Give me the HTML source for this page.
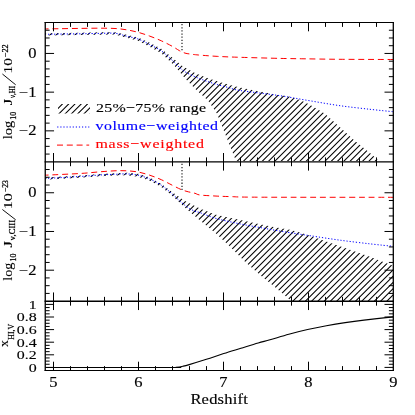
<!DOCTYPE html>
<html><head><meta charset="utf-8"><title>plot</title>
<style>html,body{margin:0;padding:0;background:#fff;}svg{display:block;}</style></head>
<body>
<svg width="415" height="415" viewBox="0 0 415 415">
<rect width="415" height="415" fill="#fff"/>
<defs>
<clipPath id="c1"><path d="M45.00 33.20 L80.00 32.70 L100.00 32.30 L115.00 32.20 L126.60 34.84 L138.10 37.39 L149.70 42.74 L161.30 48.78 L172.80 58.00 L183.00 66.50 L195.00 73.00 L206.00 77.60 L218.00 81.50 L230.00 85.00 L240.00 87.50 L260.00 91.50 L280.00 95.20 L289.00 96.50 L300.00 100.00 L310.00 104.80 L325.00 113.80 L340.00 127.30 L355.00 140.90 L370.00 153.00 L379.00 161.00 L236.00 161.00 L236.00 161.00 L232.00 151.10 L227.00 138.50 L221.90 125.80 L216.80 113.20 L208.00 100.50 L195.30 89.10 L185.20 78.50 L173.80 65.00 L161.30 53.22 L149.70 46.66 L138.10 40.81 L126.60 37.76 L115.00 34.60 L100.00 34.70 L80.00 35.10 L45.00 35.60 Z"/></clipPath>
<clipPath id="c2"><path d="M45.00 177.40 L80.00 175.40 L100.00 173.90 L115.00 173.20 L126.60 172.68 L138.10 173.87 L149.70 177.55 L161.30 183.64 L170.00 190.60 L185.00 201.00 L200.00 208.60 L215.00 214.50 L230.00 217.70 L245.00 221.00 L260.00 224.30 L275.00 227.20 L290.00 229.70 L300.00 232.50 L310.00 235.70 L325.00 241.00 L340.00 246.30 L355.00 251.50 L370.00 256.80 L393.00 265.80 L393.00 301.00 L291.50 301.30 L289.00 299.00 L275.40 287.60 L260.40 275.30 L245.30 262.00 L230.20 246.80 L215.20 232.80 L200.10 220.60 L185.10 207.80 L175.00 198.50 L170.00 194.00 L161.30 186.96 L149.70 180.65 L138.10 176.73 L126.60 175.32 L115.00 175.60 L100.00 176.30 L80.00 177.80 L45.00 179.80 Z"/></clipPath>
<clipPath id="c3"><rect x="58" y="104" width="32" height="9.6"/></clipPath>
<clipPath id="p1"><rect x="45.2" y="22.5" width="348.1" height="139.3"/></clipPath>
<clipPath id="p2"><rect x="45.2" y="161.8" width="348.1" height="139.4"/></clipPath>
</defs>
<path d="M-422.86 420 L-2.86 0 M-416.59 420 L3.41 0 M-410.32 420 L9.68 0 M-404.05 420 L15.95 0 M-397.78 420 L22.22 0 M-391.51 420 L28.49 0 M-385.24 420 L34.76 0 M-378.97 420 L41.03 0 M-372.70 420 L47.30 0 M-366.43 420 L53.57 0 M-360.16 420 L59.84 0 M-353.89 420 L66.11 0 M-347.62 420 L72.38 0 M-341.35 420 L78.65 0 M-335.08 420 L84.92 0 M-328.81 420 L91.19 0 M-322.54 420 L97.46 0 M-316.27 420 L103.73 0 M-310.00 420 L110.00 0 M-303.73 420 L116.27 0 M-297.46 420 L122.54 0 M-291.19 420 L128.81 0 M-284.92 420 L135.08 0 M-278.65 420 L141.35 0 M-272.38 420 L147.62 0 M-266.11 420 L153.89 0 M-259.84 420 L160.16 0 M-253.57 420 L166.43 0 M-247.30 420 L172.70 0 M-241.03 420 L178.97 0 M-234.76 420 L185.24 0 M-228.49 420 L191.51 0 M-222.22 420 L197.78 0 M-215.95 420 L204.05 0 M-209.68 420 L210.32 0 M-203.41 420 L216.59 0 M-197.14 420 L222.86 0 M-190.87 420 L229.13 0 M-184.60 420 L235.40 0 M-178.33 420 L241.67 0 M-172.06 420 L247.94 0 M-165.79 420 L254.21 0 M-159.52 420 L260.48 0 M-153.25 420 L266.75 0 M-146.98 420 L273.02 0 M-140.71 420 L279.29 0 M-134.44 420 L285.56 0 M-128.17 420 L291.83 0 M-121.90 420 L298.10 0 M-115.63 420 L304.37 0 M-109.36 420 L310.64 0 M-103.09 420 L316.91 0 M-96.82 420 L323.18 0 M-90.55 420 L329.45 0 M-84.28 420 L335.72 0 M-78.01 420 L341.99 0 M-71.74 420 L348.26 0 M-65.47 420 L354.53 0 M-59.20 420 L360.80 0 M-52.93 420 L367.07 0 M-46.66 420 L373.34 0 M-40.39 420 L379.61 0 M-34.12 420 L385.88 0 M-27.85 420 L392.15 0 M-21.58 420 L398.42 0 M-15.31 420 L404.69 0 M-9.04 420 L410.96 0 M-2.77 420 L417.23 0 M3.50 420 L423.50 0 M9.77 420 L429.77 0 M16.04 420 L436.04 0 M22.31 420 L442.31 0 M28.58 420 L448.58 0 M34.85 420 L454.85 0 M41.12 420 L461.12 0 M47.39 420 L467.39 0 M53.66 420 L473.66 0 M59.93 420 L479.93 0 M66.20 420 L486.20 0 M72.47 420 L492.47 0 M78.74 420 L498.74 0 M85.01 420 L505.01 0 M91.28 420 L511.28 0 M97.55 420 L517.55 0 M103.82 420 L523.82 0 M110.09 420 L530.09 0 M116.36 420 L536.36 0 M122.63 420 L542.63 0 M128.90 420 L548.90 0 M135.17 420 L555.17 0 M141.44 420 L561.44 0 M147.71 420 L567.71 0 M153.98 420 L573.98 0 M160.25 420 L580.25 0 M166.52 420 L586.52 0 M172.79 420 L592.79 0 M179.06 420 L599.06 0 M185.33 420 L605.33 0 M191.60 420 L611.60 0 M197.87 420 L617.87 0 M204.14 420 L624.14 0 M210.41 420 L630.41 0 M216.68 420 L636.68 0 M222.95 420 L642.95 0 M229.22 420 L649.22 0 M235.49 420 L655.49 0 M241.76 420 L661.76 0 M248.03 420 L668.03 0 M254.30 420 L674.30 0 M260.57 420 L680.57 0 M266.84 420 L686.84 0 M273.11 420 L693.11 0 M279.38 420 L699.38 0 M285.65 420 L705.65 0 M291.92 420 L711.92 0 M298.19 420 L718.19 0 M304.46 420 L724.46 0 M310.73 420 L730.73 0 M317.00 420 L737.00 0 M323.27 420 L743.27 0 M329.54 420 L749.54 0 M335.81 420 L755.81 0 M342.08 420 L762.08 0 M348.35 420 L768.35 0 M354.62 420 L774.62 0 M360.89 420 L780.89 0 M367.16 420 L787.16 0 M373.43 420 L793.43 0 M379.70 420 L799.70 0 M385.97 420 L805.97 0 M392.24 420 L812.24 0 M398.51 420 L818.51 0 M404.78 420 L824.78 0 " stroke="#000" stroke-width="1.05" fill="none" clip-path="url(#c1)"/>
<path d="M-421.66 420 L-1.66 0 M-415.39 420 L4.61 0 M-409.12 420 L10.88 0 M-402.85 420 L17.15 0 M-396.58 420 L23.42 0 M-390.31 420 L29.69 0 M-384.04 420 L35.96 0 M-377.77 420 L42.23 0 M-371.50 420 L48.50 0 M-365.23 420 L54.77 0 M-358.96 420 L61.04 0 M-352.69 420 L67.31 0 M-346.42 420 L73.58 0 M-340.15 420 L79.85 0 M-333.88 420 L86.12 0 M-327.61 420 L92.39 0 M-321.34 420 L98.66 0 M-315.07 420 L104.93 0 M-308.80 420 L111.20 0 M-302.53 420 L117.47 0 M-296.26 420 L123.74 0 M-289.99 420 L130.01 0 M-283.72 420 L136.28 0 M-277.45 420 L142.55 0 M-271.18 420 L148.82 0 M-264.91 420 L155.09 0 M-258.64 420 L161.36 0 M-252.37 420 L167.63 0 M-246.10 420 L173.90 0 M-239.83 420 L180.17 0 M-233.56 420 L186.44 0 M-227.29 420 L192.71 0 M-221.02 420 L198.98 0 M-214.75 420 L205.25 0 M-208.48 420 L211.52 0 M-202.21 420 L217.79 0 M-195.94 420 L224.06 0 M-189.67 420 L230.33 0 M-183.40 420 L236.60 0 M-177.13 420 L242.87 0 M-170.86 420 L249.14 0 M-164.59 420 L255.41 0 M-158.32 420 L261.68 0 M-152.05 420 L267.95 0 M-145.78 420 L274.22 0 M-139.51 420 L280.49 0 M-133.24 420 L286.76 0 M-126.97 420 L293.03 0 M-120.70 420 L299.30 0 M-114.43 420 L305.57 0 M-108.16 420 L311.84 0 M-101.89 420 L318.11 0 M-95.62 420 L324.38 0 M-89.35 420 L330.65 0 M-83.08 420 L336.92 0 M-76.81 420 L343.19 0 M-70.54 420 L349.46 0 M-64.27 420 L355.73 0 M-58.00 420 L362.00 0 M-51.73 420 L368.27 0 M-45.46 420 L374.54 0 M-39.19 420 L380.81 0 M-32.92 420 L387.08 0 M-26.65 420 L393.35 0 M-20.38 420 L399.62 0 M-14.11 420 L405.89 0 M-7.84 420 L412.16 0 M-1.57 420 L418.43 0 M4.70 420 L424.70 0 M10.97 420 L430.97 0 M17.24 420 L437.24 0 M23.51 420 L443.51 0 M29.78 420 L449.78 0 M36.05 420 L456.05 0 M42.32 420 L462.32 0 M48.59 420 L468.59 0 M54.86 420 L474.86 0 M61.13 420 L481.13 0 M67.40 420 L487.40 0 M73.67 420 L493.67 0 M79.94 420 L499.94 0 M86.21 420 L506.21 0 M92.48 420 L512.48 0 M98.75 420 L518.75 0 M105.02 420 L525.02 0 M111.29 420 L531.29 0 M117.56 420 L537.56 0 M123.83 420 L543.83 0 M130.10 420 L550.10 0 M136.37 420 L556.37 0 M142.64 420 L562.64 0 M148.91 420 L568.91 0 M155.18 420 L575.18 0 M161.45 420 L581.45 0 M167.72 420 L587.72 0 M173.99 420 L593.99 0 M180.26 420 L600.26 0 M186.53 420 L606.53 0 M192.80 420 L612.80 0 M199.07 420 L619.07 0 M205.34 420 L625.34 0 M211.61 420 L631.61 0 M217.88 420 L637.88 0 M224.15 420 L644.15 0 M230.42 420 L650.42 0 M236.69 420 L656.69 0 M242.96 420 L662.96 0 M249.23 420 L669.23 0 M255.50 420 L675.50 0 M261.77 420 L681.77 0 M268.04 420 L688.04 0 M274.31 420 L694.31 0 M280.58 420 L700.58 0 M286.85 420 L706.85 0 M293.12 420 L713.12 0 M299.39 420 L719.39 0 M305.66 420 L725.66 0 M311.93 420 L731.93 0 M318.20 420 L738.20 0 M324.47 420 L744.47 0 M330.74 420 L750.74 0 M337.01 420 L757.01 0 M343.28 420 L763.28 0 M349.55 420 L769.55 0 M355.82 420 L775.82 0 M362.09 420 L782.09 0 M368.36 420 L788.36 0 M374.63 420 L794.63 0 M380.90 420 L800.90 0 M387.17 420 L807.17 0 M393.44 420 L813.44 0 M399.71 420 L819.71 0 M405.98 420 L825.98 0 " stroke="#000" stroke-width="1.05" fill="none" clip-path="url(#c2)"/>
<path d="M-422.86 420 L-2.86 0 M-416.59 420 L3.41 0 M-410.32 420 L9.68 0 M-404.05 420 L15.95 0 M-397.78 420 L22.22 0 M-391.51 420 L28.49 0 M-385.24 420 L34.76 0 M-378.97 420 L41.03 0 M-372.70 420 L47.30 0 M-366.43 420 L53.57 0 M-360.16 420 L59.84 0 M-353.89 420 L66.11 0 M-347.62 420 L72.38 0 M-341.35 420 L78.65 0 M-335.08 420 L84.92 0 M-328.81 420 L91.19 0 M-322.54 420 L97.46 0 M-316.27 420 L103.73 0 M-310.00 420 L110.00 0 M-303.73 420 L116.27 0 M-297.46 420 L122.54 0 M-291.19 420 L128.81 0 M-284.92 420 L135.08 0 M-278.65 420 L141.35 0 M-272.38 420 L147.62 0 M-266.11 420 L153.89 0 M-259.84 420 L160.16 0 M-253.57 420 L166.43 0 M-247.30 420 L172.70 0 M-241.03 420 L178.97 0 M-234.76 420 L185.24 0 M-228.49 420 L191.51 0 M-222.22 420 L197.78 0 M-215.95 420 L204.05 0 M-209.68 420 L210.32 0 M-203.41 420 L216.59 0 M-197.14 420 L222.86 0 M-190.87 420 L229.13 0 M-184.60 420 L235.40 0 M-178.33 420 L241.67 0 M-172.06 420 L247.94 0 M-165.79 420 L254.21 0 M-159.52 420 L260.48 0 M-153.25 420 L266.75 0 M-146.98 420 L273.02 0 M-140.71 420 L279.29 0 M-134.44 420 L285.56 0 M-128.17 420 L291.83 0 M-121.90 420 L298.10 0 M-115.63 420 L304.37 0 M-109.36 420 L310.64 0 M-103.09 420 L316.91 0 M-96.82 420 L323.18 0 M-90.55 420 L329.45 0 M-84.28 420 L335.72 0 M-78.01 420 L341.99 0 M-71.74 420 L348.26 0 M-65.47 420 L354.53 0 M-59.20 420 L360.80 0 M-52.93 420 L367.07 0 M-46.66 420 L373.34 0 M-40.39 420 L379.61 0 M-34.12 420 L385.88 0 M-27.85 420 L392.15 0 M-21.58 420 L398.42 0 M-15.31 420 L404.69 0 M-9.04 420 L410.96 0 M-2.77 420 L417.23 0 M3.50 420 L423.50 0 M9.77 420 L429.77 0 M16.04 420 L436.04 0 M22.31 420 L442.31 0 M28.58 420 L448.58 0 M34.85 420 L454.85 0 M41.12 420 L461.12 0 M47.39 420 L467.39 0 M53.66 420 L473.66 0 M59.93 420 L479.93 0 M66.20 420 L486.20 0 M72.47 420 L492.47 0 M78.74 420 L498.74 0 M85.01 420 L505.01 0 M91.28 420 L511.28 0 M97.55 420 L517.55 0 M103.82 420 L523.82 0 M110.09 420 L530.09 0 M116.36 420 L536.36 0 M122.63 420 L542.63 0 M128.90 420 L548.90 0 M135.17 420 L555.17 0 M141.44 420 L561.44 0 M147.71 420 L567.71 0 M153.98 420 L573.98 0 M160.25 420 L580.25 0 M166.52 420 L586.52 0 M172.79 420 L592.79 0 M179.06 420 L599.06 0 M185.33 420 L605.33 0 M191.60 420 L611.60 0 M197.87 420 L617.87 0 M204.14 420 L624.14 0 M210.41 420 L630.41 0 M216.68 420 L636.68 0 M222.95 420 L642.95 0 M229.22 420 L649.22 0 M235.49 420 L655.49 0 M241.76 420 L661.76 0 M248.03 420 L668.03 0 M254.30 420 L674.30 0 M260.57 420 L680.57 0 M266.84 420 L686.84 0 M273.11 420 L693.11 0 M279.38 420 L699.38 0 M285.65 420 L705.65 0 M291.92 420 L711.92 0 M298.19 420 L718.19 0 M304.46 420 L724.46 0 M310.73 420 L730.73 0 M317.00 420 L737.00 0 M323.27 420 L743.27 0 M329.54 420 L749.54 0 M335.81 420 L755.81 0 M342.08 420 L762.08 0 M348.35 420 L768.35 0 M354.62 420 L774.62 0 M360.89 420 L780.89 0 M367.16 420 L787.16 0 M373.43 420 L793.43 0 M379.70 420 L799.70 0 M385.97 420 L805.97 0 M392.24 420 L812.24 0 M398.51 420 L818.51 0 M404.78 420 L824.78 0 " stroke="#000" stroke-width="1.05" fill="none" clip-path="url(#c3)"/>
<path d="M45.00 28.90 C47.50 28.87 54.17 28.78 60.00 28.70 C65.83 28.62 73.33 28.48 80.00 28.40 C86.67 28.32 94.17 28.18 100.00 28.20 C105.83 28.22 110.57 28.23 115.00 28.50 C119.43 28.77 122.75 29.17 126.60 29.80 C130.45 30.43 134.25 31.25 138.10 32.30 C141.95 33.35 145.83 34.68 149.70 36.10 C153.57 37.52 157.45 39.05 161.30 40.80 C165.15 42.55 169.80 44.97 172.80 46.60 C175.80 48.23 177.27 49.52 179.30 50.60 C181.33 51.68 183.22 52.53 185.00 53.10 C186.78 53.67 187.73 53.68 190.00 54.00 C192.27 54.32 193.97 54.60 198.60 55.00 C203.23 55.40 210.90 56.02 217.80 56.40 C224.70 56.78 229.63 56.97 240.00 57.30 C250.37 57.63 269.33 58.15 280.00 58.40 C290.67 58.65 294.00 58.65 304.00 58.80 C314.00 58.95 325.17 59.18 340.00 59.30 C354.83 59.42 384.17 59.47 393.00 59.50" stroke="#f00" stroke-width="1.0" fill="none" stroke-dasharray="5.9 3.82" stroke-dashoffset="2.25"/>
<path d="M45.00 175.20 C50.83 174.92 70.83 174.07 80.00 173.50 C89.17 172.93 94.17 172.25 100.00 171.80 C105.83 171.35 110.57 170.97 115.00 170.80 C119.43 170.63 122.75 170.60 126.60 170.80 C130.45 171.00 134.25 171.27 138.10 172.00 C141.95 172.73 145.83 173.92 149.70 175.20 C153.57 176.48 157.45 177.98 161.30 179.70 C165.15 181.42 169.43 183.83 172.80 185.50 C176.17 187.17 178.92 188.65 181.50 189.70 C184.08 190.75 186.05 191.20 188.30 191.80 C190.55 192.40 193.05 192.77 195.00 193.30 C196.95 193.83 196.67 194.55 200.00 195.00 C203.33 195.45 209.97 195.73 215.00 196.00 C220.03 196.27 222.70 196.40 230.20 196.60 C237.70 196.80 232.87 197.08 260.00 197.20 C287.13 197.32 370.83 197.28 393.00 197.30" stroke="#f00" stroke-width="1.0" fill="none" stroke-dasharray="5.9 3.82" stroke-dashoffset="2.25"/>
<path d="M45.00 34.30 C50.83 34.22 70.83 33.95 80.00 33.80 C89.17 33.65 94.17 33.48 100.00 33.40 C105.83 33.32 110.57 32.83 115.00 33.30 C119.43 33.77 122.75 35.25 126.60 36.20 C130.45 37.15 134.25 37.60 138.10 39.00 C141.95 40.40 145.83 42.62 149.70 44.60 C153.57 46.58 157.45 48.20 161.30 50.90 C165.15 53.60 169.17 57.53 172.80 60.80 C176.43 64.07 179.45 67.87 183.10 70.50 C186.75 73.13 190.83 74.83 194.70 76.60 C198.57 78.37 202.45 79.75 206.30 81.10 C210.15 82.45 213.95 83.58 217.80 84.70 C221.65 85.82 225.70 86.83 229.40 87.80 C233.10 88.77 231.57 89.18 240.00 90.50 C248.43 91.82 268.33 93.98 280.00 95.70 C291.67 97.42 300.00 99.13 310.00 100.80 C320.00 102.47 330.00 104.28 340.00 105.70 C350.00 107.12 361.17 108.30 370.00 109.30 C378.83 110.30 389.17 111.30 393.00 111.70" stroke="#00f" stroke-width="1.0" fill="none" stroke-dasharray="1.2 1.9"/>
<path d="M45.00 178.50 C50.83 178.17 70.83 177.08 80.00 176.50 C89.17 175.92 94.17 175.37 100.00 175.00 C105.83 174.63 110.57 174.48 115.00 174.30 C119.43 174.12 122.75 173.75 126.60 173.90 C130.45 174.05 134.25 174.35 138.10 175.20 C141.95 176.05 145.83 177.33 149.70 179.00 C153.57 180.67 157.92 183.03 161.30 185.20 C164.68 187.37 166.63 189.12 170.00 192.00 C173.37 194.88 178.45 199.88 181.50 202.50 C184.55 205.12 186.05 206.23 188.30 207.70 C190.55 209.17 193.03 210.47 195.00 211.30 C196.97 212.13 196.73 211.55 200.10 212.70 C203.47 213.85 210.18 216.68 215.20 218.20 C220.22 219.72 225.18 220.68 230.20 221.80 C235.22 222.92 240.27 223.93 245.30 224.90 C250.33 225.87 255.38 226.70 260.40 227.60 C265.42 228.50 270.47 229.45 275.40 230.30 C280.33 231.15 284.23 231.80 290.00 232.70 C295.77 233.60 301.63 234.45 310.00 235.70 C318.37 236.95 330.13 238.83 340.20 240.20 C350.27 241.57 361.60 242.88 370.40 243.90 C379.20 244.92 389.23 245.90 393.00 246.30" stroke="#00f" stroke-width="1.0" fill="none" stroke-dasharray="1.2 1.9"/>
<path d="M45.00 367.50 C65.83 367.50 148.17 367.53 170.00 367.50 C191.83 367.47 173.83 367.52 176.00 367.30 C178.17 367.08 180.80 366.65 183.00 366.20 C185.20 365.75 185.30 365.75 189.20 364.60 C193.10 363.45 200.65 361.13 206.40 359.30 C212.15 357.47 217.95 355.43 223.70 353.60 C229.45 351.77 235.15 350.07 240.90 348.30 C246.65 346.53 253.35 344.42 258.20 343.00 C263.05 341.58 264.90 341.27 270.00 339.80 C275.10 338.33 282.53 335.92 288.80 334.20 C295.07 332.48 301.33 330.92 307.60 329.50 C313.87 328.08 320.13 326.85 326.40 325.70 C332.67 324.55 338.93 323.53 345.20 322.60 C351.47 321.67 356.03 321.05 364.00 320.10 C371.97 319.15 388.17 317.43 393.00 316.90" stroke="#000" stroke-width="1.1" fill="none"/>
<path d="M182.0 24 V51 M182.0 163.8 V190" stroke="#000" stroke-width="1.05" fill="none" stroke-dasharray="1.3 1.83"/>
<path d="M57.2 127 H89.3" stroke="#00f" stroke-width="1.0" fill="none" stroke-dasharray="1.2 1.9"/>
<path d="M57 145.1 H89.2" stroke="#f00" stroke-width="1.0" fill="none" stroke-dasharray="6.0 3.8"/>
<path d="M44.60 22.50 L393.95 22.50" stroke="#000" stroke-width="1.00" fill="none"/>
<path d="M44.60 161.80 L393.95 161.80" stroke="#000" stroke-width="1.30" fill="none"/>
<path d="M44.60 301.25 L393.95 301.25" stroke="#000" stroke-width="1.30" fill="none"/>
<path d="M44.60 370.50 L393.95 370.50" stroke="#000" stroke-width="1.10" fill="none"/>
<path d="M45.25 22.00 L45.25 371.05" stroke="#000" stroke-width="1.30" fill="none"/>
<path d="M393.30 22.00 L393.30 371.05" stroke="#000" stroke-width="1.30" fill="none"/>
<path d="M53.50 22.50 v8.80 M53.50 153.00 v17.60 M53.50 292.45 v17.60 M53.50 370.50 v-8.80 M70.50 22.50 v4.40 M70.50 157.40 v8.80 M70.50 296.85 v8.80 M70.50 370.50 v-4.40 M87.50 22.50 v4.40 M87.50 157.40 v8.80 M87.50 296.85 v8.80 M87.50 370.50 v-4.40 M104.50 22.50 v4.40 M104.50 157.40 v8.80 M104.50 296.85 v8.80 M104.50 370.50 v-4.40 M121.50 22.50 v4.40 M121.50 157.40 v8.80 M121.50 296.85 v8.80 M121.50 370.50 v-4.40 M138.50 22.50 v8.80 M138.50 153.00 v17.60 M138.50 292.45 v17.60 M138.50 370.50 v-8.80 M155.50 22.50 v4.40 M155.50 157.40 v8.80 M155.50 296.85 v8.80 M155.50 370.50 v-4.40 M172.50 22.50 v4.40 M172.50 157.40 v8.80 M172.50 296.85 v8.80 M172.50 370.50 v-4.40 M189.50 22.50 v4.40 M189.50 157.40 v8.80 M189.50 296.85 v8.80 M189.50 370.50 v-4.40 M206.50 22.50 v4.40 M206.50 157.40 v8.80 M206.50 296.85 v8.80 M206.50 370.50 v-4.40 M223.50 22.50 v8.80 M223.50 153.00 v17.60 M223.50 292.45 v17.60 M223.50 370.50 v-8.80 M240.50 22.50 v4.40 M240.50 157.40 v8.80 M240.50 296.85 v8.80 M240.50 370.50 v-4.40 M257.50 22.50 v4.40 M257.50 157.40 v8.80 M257.50 296.85 v8.80 M257.50 370.50 v-4.40 M274.50 22.50 v4.40 M274.50 157.40 v8.80 M274.50 296.85 v8.80 M274.50 370.50 v-4.40 M291.50 22.50 v4.40 M291.50 157.40 v8.80 M291.50 296.85 v8.80 M291.50 370.50 v-4.40 M308.50 22.50 v8.80 M308.50 153.00 v17.60 M308.50 292.45 v17.60 M308.50 370.50 v-8.80 M325.50 22.50 v4.40 M325.50 157.40 v8.80 M325.50 296.85 v8.80 M325.50 370.50 v-4.40 M342.50 22.50 v4.40 M342.50 157.40 v8.80 M342.50 296.85 v8.80 M342.50 370.50 v-4.40 M359.50 22.50 v4.40 M359.50 157.40 v8.80 M359.50 296.85 v8.80 M359.50 370.50 v-4.40 M376.50 22.50 v4.40 M376.50 157.40 v8.80 M376.50 296.85 v8.80 M376.50 370.50 v-4.40 M45.25 154.07 h4.40 M393.30 154.07 h-4.40 M45.25 146.33 h4.40 M393.30 146.33 h-4.40 M45.25 138.59 h4.40 M393.30 138.59 h-4.40 M45.25 130.85 h8.80 M393.30 130.85 h-8.80 M45.25 123.11 h4.40 M393.30 123.11 h-4.40 M45.25 115.37 h4.40 M393.30 115.37 h-4.40 M45.25 107.63 h4.40 M393.30 107.63 h-4.40 M45.25 99.89 h4.40 M393.30 99.89 h-4.40 M45.25 92.15 h8.80 M393.30 92.15 h-8.80 M45.25 84.41 h4.40 M393.30 84.41 h-4.40 M45.25 76.67 h4.40 M393.30 76.67 h-4.40 M45.25 68.93 h4.40 M393.30 68.93 h-4.40 M45.25 61.19 h4.40 M393.30 61.19 h-4.40 M45.25 53.45 h8.80 M393.30 53.45 h-8.80 M45.25 45.71 h4.40 M393.30 45.71 h-4.40 M45.25 37.97 h4.40 M393.30 37.97 h-4.40 M45.25 30.23 h4.40 M393.30 30.23 h-4.40 M45.25 293.42 h4.40 M393.30 293.42 h-4.40 M45.25 285.68 h4.40 M393.30 285.68 h-4.40 M45.25 277.93 h4.40 M393.30 277.93 h-4.40 M45.25 270.19 h8.80 M393.30 270.19 h-8.80 M45.25 262.45 h4.40 M393.30 262.45 h-4.40 M45.25 254.70 h4.40 M393.30 254.70 h-4.40 M45.25 246.96 h4.40 M393.30 246.96 h-4.40 M45.25 239.21 h4.40 M393.30 239.21 h-4.40 M45.25 231.47 h8.80 M393.30 231.47 h-8.80 M45.25 223.73 h4.40 M393.30 223.73 h-4.40 M45.25 215.98 h4.40 M393.30 215.98 h-4.40 M45.25 208.24 h4.40 M393.30 208.24 h-4.40 M45.25 200.49 h4.40 M393.30 200.49 h-4.40 M45.25 192.75 h8.80 M393.30 192.75 h-8.80 M45.25 185.01 h4.40 M393.30 185.01 h-4.40 M45.25 177.26 h4.40 M393.30 177.26 h-4.40 M45.25 169.52 h4.40 M393.30 169.52 h-4.40 M45.25 367.40 h8.80 M393.30 367.40 h-8.80 M45.25 364.25 h4.40 M393.30 364.25 h-4.40 M45.25 361.10 h4.40 M393.30 361.10 h-4.40 M45.25 357.95 h4.40 M393.30 357.95 h-4.40 M45.25 354.80 h8.80 M393.30 354.80 h-8.80 M45.25 351.65 h4.40 M393.30 351.65 h-4.40 M45.25 348.50 h4.40 M393.30 348.50 h-4.40 M45.25 345.35 h4.40 M393.30 345.35 h-4.40 M45.25 342.20 h8.80 M393.30 342.20 h-8.80 M45.25 339.05 h4.40 M393.30 339.05 h-4.40 M45.25 335.90 h4.40 M393.30 335.90 h-4.40 M45.25 332.75 h4.40 M393.30 332.75 h-4.40 M45.25 329.60 h8.80 M393.30 329.60 h-8.80 M45.25 326.45 h4.40 M393.30 326.45 h-4.40 M45.25 323.30 h4.40 M393.30 323.30 h-4.40 M45.25 320.15 h4.40 M393.30 320.15 h-4.40 M45.25 317.00 h8.80 M393.30 317.00 h-8.80 M45.25 313.85 h4.40 M393.30 313.85 h-4.40 M45.25 310.70 h4.40 M393.30 310.70 h-4.40 M45.25 307.55 h4.40 M393.30 307.55 h-4.40 M45.25 304.40 h8.80 M393.30 304.40 h-8.80 " stroke="#000" stroke-width="1" fill="none"/>
<g opacity="0.999">
<text transform="translate(36.60 58.05) scale(1.180 1)" font-size="14.00" text-anchor="end" fill="#000" font-family="Liberation Serif, serif" stroke="#000" stroke-width="0.15" >0</text>
<text transform="translate(36.60 197.35) scale(1.180 1)" font-size="14.00" text-anchor="end" fill="#000" font-family="Liberation Serif, serif" stroke="#000" stroke-width="0.15" >0</text>
<text transform="translate(36.60 96.75) scale(1.180 1)" font-size="14.00" text-anchor="end" fill="#000" font-family="Liberation Serif, serif" stroke="#000" stroke-width="0.15" >−1</text>
<text transform="translate(36.60 236.07) scale(1.180 1)" font-size="14.00" text-anchor="end" fill="#000" font-family="Liberation Serif, serif" stroke="#000" stroke-width="0.15" >−1</text>
<text transform="translate(36.60 135.45) scale(1.180 1)" font-size="14.00" text-anchor="end" fill="#000" font-family="Liberation Serif, serif" stroke="#000" stroke-width="0.15" >−2</text>
<text transform="translate(36.60 274.79) scale(1.180 1)" font-size="14.00" text-anchor="end" fill="#000" font-family="Liberation Serif, serif" stroke="#000" stroke-width="0.15" >−2</text>
<text transform="translate(36.60 308.80) scale(1.180 1)" font-size="13.50" text-anchor="end" fill="#000" font-family="Liberation Serif, serif" stroke="#000" stroke-width="0.15" >1</text>
<text transform="translate(36.60 321.40) scale(1.180 1)" font-size="13.50" text-anchor="end" fill="#000" font-family="Liberation Serif, serif" stroke="#000" stroke-width="0.15" >0.8</text>
<text transform="translate(36.60 334.00) scale(1.180 1)" font-size="13.50" text-anchor="end" fill="#000" font-family="Liberation Serif, serif" stroke="#000" stroke-width="0.15" >0.6</text>
<text transform="translate(36.60 346.60) scale(1.180 1)" font-size="13.50" text-anchor="end" fill="#000" font-family="Liberation Serif, serif" stroke="#000" stroke-width="0.15" >0.4</text>
<text transform="translate(36.60 359.20) scale(1.180 1)" font-size="13.50" text-anchor="end" fill="#000" font-family="Liberation Serif, serif" stroke="#000" stroke-width="0.15" >0.2</text>
<text transform="translate(36.60 371.80) scale(1.180 1)" font-size="13.50" text-anchor="end" fill="#000" font-family="Liberation Serif, serif" stroke="#000" stroke-width="0.15" >0</text>
<text transform="translate(53.50 387.40) scale(1.180 1)" font-size="14.00" text-anchor="middle" fill="#000" font-family="Liberation Serif, serif" stroke="#000" stroke-width="0.15" >5</text>
<text transform="translate(138.50 387.40) scale(1.180 1)" font-size="14.00" text-anchor="middle" fill="#000" font-family="Liberation Serif, serif" stroke="#000" stroke-width="0.15" >6</text>
<text transform="translate(223.50 387.40) scale(1.180 1)" font-size="14.00" text-anchor="middle" fill="#000" font-family="Liberation Serif, serif" stroke="#000" stroke-width="0.15" >7</text>
<text transform="translate(308.50 387.40) scale(1.180 1)" font-size="14.00" text-anchor="middle" fill="#000" font-family="Liberation Serif, serif" stroke="#000" stroke-width="0.15" >8</text>
<text transform="translate(393.50 387.40) scale(1.180 1)" font-size="14.00" text-anchor="middle" fill="#000" font-family="Liberation Serif, serif" stroke="#000" stroke-width="0.15" >9</text>
<text transform="translate(219.10 403.60) scale(1.180 1)" font-size="14.00" text-anchor="middle" fill="#000" font-family="Liberation Serif, serif" textLength="48.64" lengthAdjust="spacing" stroke="#000" stroke-width="0.15" >Redshift</text>
<text transform="translate(96.00 111.70) scale(1.180 1)" font-size="13.50" text-anchor="start" fill="#000" font-family="Liberation Serif, serif" textLength="93.22" lengthAdjust="spacing" stroke="#000" stroke-width="0.15" >25%−75% range</text>
<text transform="translate(95.40 129.70) scale(1.180 1)" font-size="13.50" text-anchor="start" fill="#00f" font-family="Liberation Serif, serif" textLength="103.90" lengthAdjust="spacing" stroke="#00f" stroke-width="0.15" >volume−weighted</text>
<text transform="translate(95.40 147.70) scale(1.180 1)" font-size="13.50" text-anchor="start" fill="#f00" font-family="Liberation Serif, serif" textLength="91.95" lengthAdjust="spacing" stroke="#f00" stroke-width="0.15" >mass−weighted</text>
<text transform="translate(12.30 139.20) rotate(-90) scale(1.067 1)" font-size="13.50" font-family="Liberation Serif, serif" fill="#000" stroke="#000" stroke-width="0.08" textLength="17.25" lengthAdjust="spacing">log</text>
<text transform="translate(16.30 119.70) rotate(-90) scale(1.000 1)" font-size="8.00" font-family="Liberation Serif, serif" fill="#000" stroke="#000" stroke-width="0.25" textLength="8.00" lengthAdjust="spacing">10</text>
<text transform="translate(12.30 105.20) rotate(-90) scale(1.237 1)" font-size="13.50" font-family="Liberation Serif, serif" fill="#000" stroke="#000" stroke-width="0.08" textLength="5.25" lengthAdjust="spacing">J</text>
<text transform="translate(15.20 98.00) rotate(-90) scale(0.854 1)" font-size="8.00" font-family="Liberation Serif, serif" fill="#000" stroke="#000" stroke-width="0.25" textLength="14.06" lengthAdjust="spacing">ν,HI</text>
<path d="M15.7 84.80 L2.4 74.00" stroke="#000" stroke-width="0.95" fill="none"/>
<text transform="translate(12.30 73.50) rotate(-90) scale(1.141 1)" font-size="13.50" font-family="Liberation Serif, serif" fill="#000" stroke="#000" stroke-width="0.08" textLength="13.50" lengthAdjust="spacing">10</text>
<text transform="translate(7.90 57.30) rotate(-90) scale(1.108 1)" font-size="7.50" font-family="Liberation Serif, serif" fill="#000" stroke="#000" stroke-width="0.25" textLength="11.73" lengthAdjust="spacing">−22</text>
<text transform="translate(12.30 280.70) rotate(-90) scale(1.055 1)" font-size="13.50" font-family="Liberation Serif, serif" fill="#000" stroke="#000" stroke-width="0.08" textLength="17.25" lengthAdjust="spacing">log</text>
<text transform="translate(16.30 261.50) rotate(-90) scale(1.000 1)" font-size="8.00" font-family="Liberation Serif, serif" fill="#000" stroke="#000" stroke-width="0.25" textLength="8.00" lengthAdjust="spacing">10</text>
<text transform="translate(12.30 247.50) rotate(-90) scale(1.237 1)" font-size="13.50" font-family="Liberation Serif, serif" fill="#000" stroke="#000" stroke-width="0.08" textLength="5.25" lengthAdjust="spacing">J</text>
<text transform="translate(15.20 240.30) rotate(-90) scale(1.072 1)" font-size="8.00" font-family="Liberation Serif, serif" fill="#000" stroke="#000" stroke-width="0.25" textLength="18.95" lengthAdjust="spacing">ν,CIII</text>
<path d="M15.7 219.80 L2.4 209.50" stroke="#000" stroke-width="0.95" fill="none"/>
<text transform="translate(12.30 209.20) rotate(-90) scale(1.193 1)" font-size="13.50" font-family="Liberation Serif, serif" fill="#000" stroke="#000" stroke-width="0.08" textLength="13.50" lengthAdjust="spacing">10</text>
<text transform="translate(7.90 192.10) rotate(-90) scale(1.023 1)" font-size="7.50" font-family="Liberation Serif, serif" fill="#000" stroke="#000" stroke-width="0.25" textLength="11.73" lengthAdjust="spacing">−23</text>
<text transform="translate(7.70 347.00) rotate(-90) scale(1.022 1)" font-size="13.50" font-family="Liberation Serif, serif" fill="#000" stroke="#000" stroke-width="0.08" textLength="6.75" lengthAdjust="spacing">x</text>
<text transform="translate(13.50 339.70) rotate(-90) scale(0.974 1)" font-size="8.00" font-family="Liberation Serif, serif" fill="#000" stroke="#000" stroke-width="0.25" textLength="16.22" lengthAdjust="spacing">HI,V</text>
</g>
</svg>
</body></html>
